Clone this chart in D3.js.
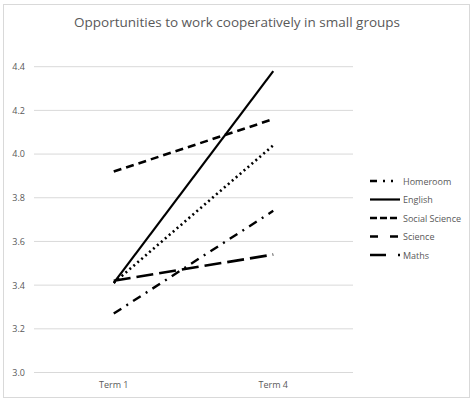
<!DOCTYPE html>
<html>
<head>
<meta charset="utf-8">
<script src="https://cdn.jsdelivr.net/npm/d3@7.9.0/dist/d3.min.js"></script>
<style>
  body { margin: 0; background: #fff; }
  svg text { font-family: "Open Sans", "Liberation Sans", sans-serif; fill: #595959; }
</style>
</head>
<body>
<svg width="474" height="403"></svg>
<script>
// data
const terms = ['Term 1', 'Term 4'];
const subjects = ['Homeroom', 'English', 'Social Science', 'Science', 'Maths'];
const homeroom = [3.27, 3.74];
const english = [3.41, 4.38];
const socialScience = [3.92, 4.16];
const science = [3.41, 4.04];
const maths = [3.42, 3.54];
const yTicks = [3.0, 3.2, 3.4, 3.6, 3.8, 4.0, 4.2, 4.4];

const seriesValues = [homeroom, english, socialScience, science, maths];

// line look per subject: [plot dasharray, legend dasharray, width]
const styles = [
  ['9,6,2,6', '7,6,2,6,2', 2.4],
  [null, null, 2.2],
  ['8,5', '7,3', 2.6],
  ['2,3.2', '8,12', 2.6],
  ['17,6', '16,12,2', 2.6]
];

const svg = d3.select('svg');

svg.append('rect')
  .attr('x', 3.5).attr('y', 4.5)
  .attr('width', 466).attr('height', 393)
  .attr('fill', '#fff').attr('stroke', '#d9d9d9');

svg.append('text')
  .attr('x', 237).attr('y', 27)
  .attr('text-anchor', 'middle')
  .style('font-size', '13.5px')
  .text('Opportunities to work cooperatively in small groups');

const x = d3.scaleBand().domain(terms).range([34, 353]);
const y = d3.scaleLinear().domain([3.0, 4.4]).range([372.5, 66.7]);

// grid
svg.append('g')
  .selectAll('line')
  .data(yTicks)
  .join('line')
  .attr('x1', 34).attr('x2', 353)
  .attr('y1', d => y(d)).attr('y2', d => y(d))
  .attr('stroke', '#d9d9d9').attr('stroke-width', 1);

const yAxis = svg.append('g')
  .attr('transform', 'translate(27,0)')
  .call(d3.axisLeft(y).tickValues(yTicks).tickFormat(d3.format('.1f')).tickSize(0).tickPadding(2));
yAxis.select('.domain').remove();
yAxis.selectAll('text').style('font-size', '9px').attr('fill', '#595959');

const xAxis = svg.append('g')
  .attr('transform', 'translate(0,378)')
  .call(d3.axisBottom(x).tickSize(0).tickPadding(4));
xAxis.select('.domain').remove();
xAxis.selectAll('text').style('font-size', '9px').attr('fill', '#595959');

const line = d3.line()
  .x((d, i) => x(terms[i]) + x.bandwidth() / 2)
  .y(d => y(d));

svg.append('g')
  .selectAll('path')
  .data(seriesValues)
  .join('path')
  .attr('d', d => line(d))
  .attr('fill', 'none')
  .attr('stroke', '#000')
  .attr('stroke-width', (d, i) => styles[i][2])
  .attr('stroke-dasharray', (d, i) => styles[i][0]);

// legend
const legend = svg.append('g')
  .selectAll('g')
  .data(subjects)
  .join('g')
  .attr('transform', (d, i) => `translate(370,${181 + i * 18.5})`);

legend.append('line')
  .attr('x1', 0).attr('x2', 30)
  .attr('stroke', '#000')
  .attr('stroke-width', (d, i) => styles[i][2])
  .attr('stroke-dasharray', (d, i) => styles[i][1]);

legend.append('text')
  .attr('x', 33).attr('y', 3.5)
  .style('font-size', '9px')
  .text(d => d);
</script>
</body>
</html>
